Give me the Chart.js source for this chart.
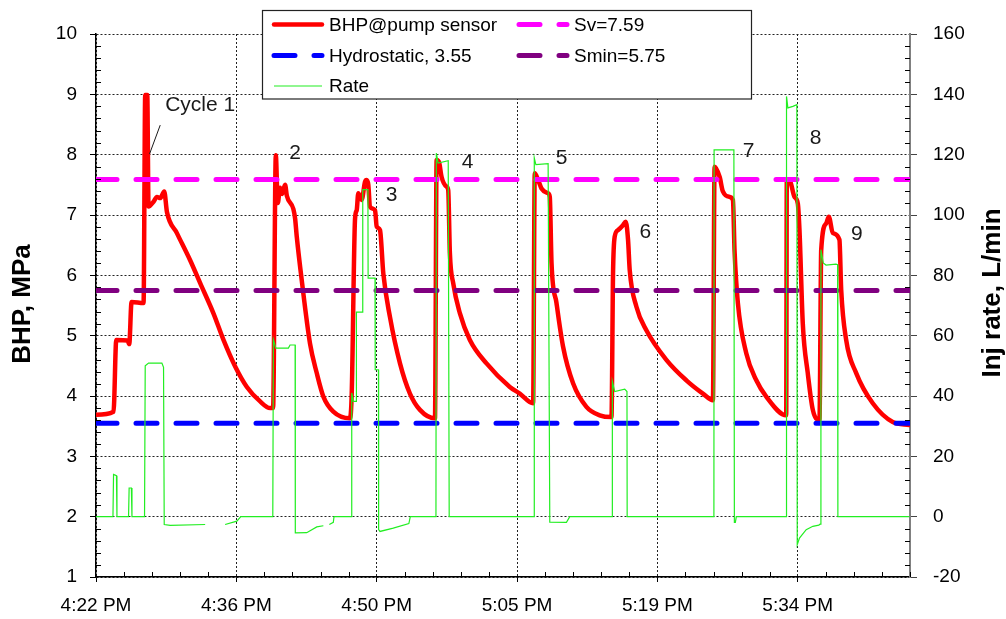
<!DOCTYPE html>
<html>
<head>
<meta charset="utf-8">
<script src="https://cdn.jsdelivr.net/npm/chart.js@4.4.1/dist/chart.umd.min.js"></script>
<style>
  html, body { margin: 0; padding: 0; background: #fff; }
  #wrap { width: 1006px; height: 619px; }
</style>
</head>
<body>
<div id="wrap"><canvas id="chart" width="1006" height="619"></canvas></div>
<script>
// ---------- Data (x = minutes after 4:22 PM) ----------
const bhpTime = [0,1.8,2.08,3.24,3.41,3.65,4.88,5.05,5.26,5.39,
  5.9,6.25,6.59,7.0,7.28,8.3,9.66,10.69,12.05,13.08,
  14.28,15.48,16.84,17.86,18.17,18.45,18.65,18.89,19.1,19.4,
  19.58,20.25,20.43,20.6,21.11,21.96,22.65,23.33,24.35,26.06,
  26.24,26.58,26.75,26.91,27.26,27.6,27.77,27.94,28.11,28.63,
  28.8,29.14,29.48,30.16,31.19,32.21,33.24,34.78,34.95,35.22,
  35.46,35.97,36.14,36.31,36.65,37.34,38.36,40.07,42.46,43.48,
  44.85,45.02,45.36,45.71,46.39,46.56,46.74,47.25,47.92,48.95,
  50.32,51.68,52.89,53.05,53.22,53.56,54.07,54.35,54.59,54.76,
  55.45,56.47,58.52,60.57,62.27,63.3,63.47,63.99,64.32,65.01,
  65.35,65.52,65.86,66.72,67.75,68.77,70.82,70.88,71.23,71.67,
  72.01,72.18,72.52,73.03,73.55,74.23,74.41,74.92,75.19,75.6,
  76.28,76.46,76.97,78.0,79.7,81.75,83.46];
const bhpValue = [3.69,3.74,4.93,4.92,4.86,5.56,5.54,8.99,8.99,7.14,
  7.22,7.3,7.28,7.39,7.05,6.7,6.25,5.87,5.37,4.93,
  4.49,4.15,3.91,3.8,3.8,7.99,7.2,7.45,7.35,7.5,
  7.32,7.1,6.94,6.64,5.92,4.87,4.38,3.99,3.74,3.63,
  4.05,6.94,7.08,7.36,7.25,7.55,7.58,7.5,7.14,7.08,
  6.81,6.75,6.03,5.31,4.54,4.04,3.77,3.63,7.91,7.86,
  7.63,7.47,7.41,6.37,5.87,5.37,4.93,4.54,4.15,4.04,
  3.88,7.69,7.58,7.44,7.36,7.3,6.2,5.54,4.82,4.21,
  3.82,3.68,3.65,6.03,6.64,6.75,6.83,6.89,6.59,6.09,
  5.48,5.09,4.6,4.26,4.04,3.93,7.8,7.63,7.39,7.3,
  7.25,6.4,5.54,4.71,4.26,3.99,3.68,7.58,7.55,7.3,
  7.19,6.75,5.2,4.38,3.77,3.6,6.42,6.86,6.97,6.7,
  6.59,5.76,4.93,4.38,3.88,3.57,3.52];

const rateTime = [0,1.74,1.8,2.1,2.15,3.34,3.4,3.63,3.69,4.98,
  5.05,5.39,6.76,6.93,7.0,7.62,11.2,11.7,13.25,14.45,
  14.86,18.14,18.2,18.45,19.74,19.91,20.43,20.45,21.62,22.65,
  23.33,23.6,23.94,24.35,24.42,26.2,26.24,26.4,26.7,26.72,
  27.35,27.37,27.9,27.92,28.63,28.65,28.98,29.0,29.14,30.5,
  32.1,32.25,34.88,34.92,35.1,36.14,36.24,44.95,44.97,45.13,
  46.39,46.56,48.27,48.61,52.95,52.98,53.22,54.25,54.48,54.5,
  63.4,63.42,65.45,65.5,65.6,65.7,70.82,70.85,70.99,71.5,
  71.91,71.95,72.18,72.87,73.55,74.16,74.3,74.38,74.62,74.9,
  75.92,76.09,76.12,83.46];
const rateValue = [0,0,14,13.6,0,0,9.5,9.5,0,0,
  50,50.9,50.9,49.5,-2.6,-2.9,-2.6,null,-2.6,-1.5,
  0,0,58.7,55.9,55.9,56.9,56.9,-5.4,-5.3,-3.4,
  -3.0,null,-2.6,-1.9,0,0,41,38.2,38.2,67.8,
  67.8,108.4,108.4,79.1,79.1,48.7,48.7,-4.3,-4.9,-3.8,
  -2.3,0,0,120.5,117.2,118,0,0,118.9,116.7,
  117,-1.8,-1.9,0,0,44.8,41.5,42.3,41.5,0,
  0,121.6,121.6,-1.9,-1.9,0,0,139.3,135.5,136,
  136.6,-9.3,-7.1,-4.3,-3.2,-2.8,-2.5,88.5,84.1,83.4,
  83.7,83.5,0,0];

const svLevel = 7.59;
const hydroLevel = 3.55;
const sminLevel = 5.75;

const xMax = 83.52;
const tickMinutes = [0, 14.4, 28.8, 43.2, 57.6, 72];
const tickLabels = ["4:22 PM", "4:36 PM", "4:50 PM", "5:05 PM", "5:19 PM", "5:34 PM"];

const cycleLabels = ["Cycle 1", "2", "3", "4", "5", "6", "7", "8", "9"];
const cycleLabelTime = [10.69, 20.44, 30.34, 38.13, 47.76, 56.37, 66.96, 73.83, 78.06];
const cycleLabelBhp = [8.82, 8.03, 7.33, 7.88, 7.94, 6.72, 8.05, 8.28, 6.69];
const calloutTime = [6.59, 5.49];
const calloutBhp = [8.49, 8.01];

// ---------- Helpers ----------
const FONT = '"Liberation Sans", Arial, sans-serif';
Chart.defaults.font.family = FONT;
Chart.defaults.color = "#000";

function pairs(xs, ys) {
  return xs.map((t, i) => ({ x: t, y: ys[i] }));
}
function level(v) {
  return [{ x: 0, y: v }, { x: xMax, y: v }];
}

const DASH = [21, 19];

// ---------- Overlay: minor ticks, labels, titles, legend ----------
const overlay = {
  id: "overlay",
  afterDraw(chart) {
    const { ctx, chartArea: a, scales } = chart;
    const { x, y, y1 } = scales;
    ctx.save();

    // minor ticks (inside)
    ctx.strokeStyle = "#000";
    ctx.lineWidth = 1;
    ctx.beginPath();
    for (let i = 1; i < 45; i++) {
      if (i % 5 === 0) continue;
      const py = Math.round(y.getPixelForValue(1 + i * 0.2)) + 0.5;
      ctx.moveTo(a.left, py); ctx.lineTo(a.left + 5, py);
      const pr = Math.round(y1.getPixelForValue(-20 + i * 4)) + 0.5;
      ctx.moveTo(a.right - 5, pr); ctx.lineTo(a.right, pr);
    }
    for (let i = 1; i * 2.88 <= xMax; i++) {
      if (i % 5 === 0) continue;
      const px = Math.round(x.getPixelForValue(i * 2.88)) + 0.5;
      ctx.moveTo(px, a.bottom - 5); ctx.lineTo(px, a.bottom);
    }
    ctx.stroke();

    // cycle labels
    ctx.fillStyle = "#1a1a1a";
    ctx.font = "21px " + FONT;
    ctx.textAlign = "center";
    ctx.textBaseline = "middle";
    cycleLabels.forEach((t, i) => {
      ctx.fillText(t, x.getPixelForValue(cycleLabelTime[i]), y.getPixelForValue(cycleLabelBhp[i]));
    });
    ctx.strokeStyle = "#1a1a1a";
    ctx.lineWidth = 1;
    ctx.beginPath();
    ctx.moveTo(x.getPixelForValue(calloutTime[0]), y.getPixelForValue(calloutBhp[0]));
    ctx.lineTo(x.getPixelForValue(calloutTime[1]), y.getPixelForValue(calloutBhp[1]));
    ctx.stroke();

    // axis titles
    ctx.fillStyle = "#000";
    ctx.font = "bold 26px " + FONT;
    ctx.save();
    ctx.translate(23, 304);
    ctx.rotate(-Math.PI / 2);
    ctx.fillText("BHP, MPa", 0, 0);
    ctx.restore();
    ctx.save();
    ctx.translate(993, 293);
    ctx.rotate(-Math.PI / 2);
    ctx.fillText("Inj rate, L/min", 0, 0);
    ctx.restore();

    // legend
    ctx.fillStyle = "#fff";
    ctx.fillRect(262.5, 10.5, 489, 88.5);
    ctx.strokeStyle = "#222";
    ctx.lineWidth = 1.2;
    ctx.strokeRect(262.5, 10.5, 489, 88.5);
    const legendOrder = [0, 1, 2, 3, 4];
    const legendCol = [0, 1, 0, 1, 0];
    const legendRow = [0, 0, 1, 1, 2];
    const colX = [274, 519];
    const rowY = [24.5, 55.5, 86];
    ctx.font = "19px " + FONT;
    ctx.textAlign = "left";
    legendOrder.forEach((di, k) => {
      const ds = chart.data.datasets[di];
      const lx = colX[legendCol[k]];
      const ly = rowY[legendRow[k]];
      ctx.save();
      ctx.strokeStyle = ds.borderColor;
      ctx.lineWidth = ds.borderWidth;
      ctx.lineCap = ds.borderCapStyle || "butt";
      ctx.setLineDash(ds.borderDash || []);
      ctx.beginPath();
      ctx.moveTo(lx, ly); ctx.lineTo(lx + 48, ly);
      ctx.stroke();
      ctx.restore();
      ctx.fillStyle = "#000";
      ctx.fillText(ds.label, lx + 55, ly + 1);
    });

    ctx.restore();
  }
};

// ---------- Chart ----------
new Chart(document.getElementById("chart"), {
  type: "line",
  data: {
    datasets: [
      { label: "BHP@pump sensor", data: pairs(bhpTime, bhpValue), yAxisID: "y",
        borderColor: "#ff0000", borderWidth: 4.5, borderJoinStyle: "round", borderCapStyle: "round",
        cubicInterpolationMode: "monotone", order: 4 },
      { label: "Sv=7.59", data: level(svLevel), yAxisID: "y",
        borderColor: "#ff00ff", borderWidth: 5, borderDash: DASH, borderCapStyle: "round", order: 2 },
      { label: "Hydrostatic, 3.55", data: level(hydroLevel), yAxisID: "y",
        borderColor: "#0000ff", borderWidth: 5, borderDash: DASH, borderCapStyle: "round", order: 3 },
      { label: "Smin=5.75", data: level(sminLevel), yAxisID: "y",
        borderColor: "#800080", borderWidth: 5, borderDash: DASH, borderCapStyle: "round", order: 1 },
      { label: "Rate", data: pairs(rateTime, rateValue), yAxisID: "y1",
        borderColor: "#22ee22", borderWidth: 1.2, order: 0 }
    ]
  },
  options: {
    responsive: false,
    animation: false,
    devicePixelRatio: 1,
    layout: { padding: { top: 34, left: 0, right: 0, bottom: 0 } },
    elements: { point: { radius: 0 }, line: { tension: 0 } },
    plugins: { legend: { display: false }, tooltip: { enabled: false } },
    scales: {
      x: {
        type: "linear", min: 0, max: xMax,
        afterBuildTicks: s => { s.ticks = tickMinutes.map(v => ({ value: v })); },
        afterFit: s => { s.height = 42; },
        ticks: { autoSkip: false, maxRotation: 0, padding: 12, font: { size: 19 },
          callback: (v, i) => tickLabels[i] },
        grid: { color: "#222", lineWidth: 1, tickLength: 5, tickColor: "#000", tickBorderDash: [] },
        border: { color: "#000", width: 1.5, dash: [2, 2] }
      },
      y: {
        position: "left", min: 1, max: 10,
        afterFit: s => { s.width = 96; },
        ticks: { stepSize: 1, padding: 13, font: { size: 19 } },
        grid: { color: "#222", lineWidth: 1, tickLength: 6, tickColor: "#000", tickBorderDash: [] },
        border: { color: "#000", width: 1.5, dash: [2, 2] }
      },
      y1: {
        position: "right", min: -20, max: 160,
        afterFit: s => { s.width = 96; },
        ticks: { stepSize: 20, padding: 16, font: { size: 19 } },
        grid: { drawOnChartArea: false, tickLength: 7, tickColor: "#444", tickBorderDash: [] },
        border: { color: "#808080", width: 2 }
      }
    }
  },
  plugins: [overlay]
});
</script>
</body>
</html>
